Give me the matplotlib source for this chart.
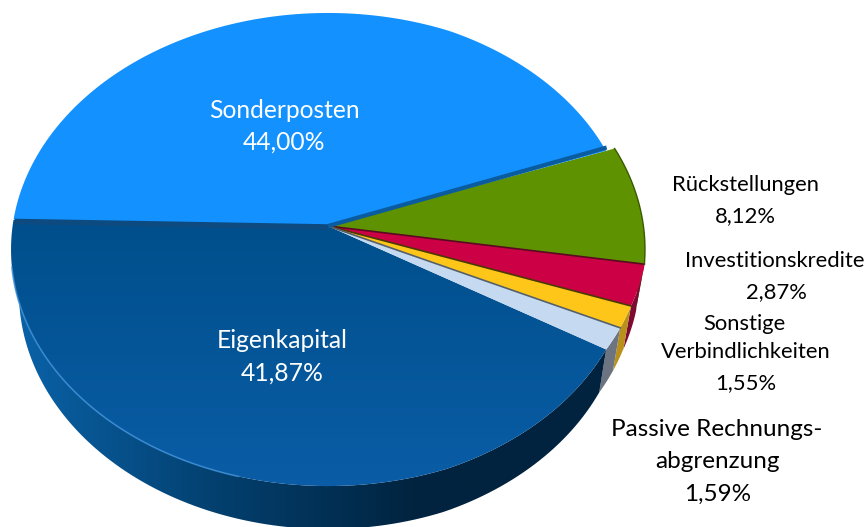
import matplotlib
matplotlib.use("Agg")
import matplotlib.pyplot as plt
import numpy as np
from matplotlib.colors import LinearSegmentedColormap
from matplotlib.patches import Polygon

plt.rcParams["font.family"] = ["Lato", "DejaVu Sans"]

# clockwise from the green slice, values in percent
names = ["Rückstellungen", "Investitionskredite", "Sonstige\nVerbindlichkeiten",
         "Passive Rechnungs-\nabgrenzung", "Eigenkapital", "Sonderposten"]
values = [8.12, 2.87, 1.55, 1.59, 41.87, 44.00]
labels = ["8,12%", "2,87%", "1,55%", "1,59%", "41,87%", "44,00%"]
colors = ["#5f9200", "#cc0044", "#ffc61a", "#c5d9f1", "#03559a", "#1291ff"]
wall_colors = ["#3d5e00", "#7d0a30", "#b8901a", "#6b7480", "#01233f", "#0a5c9e"]
edge_colors = ["#3a5a00", "#5a0a20", "#4a3a00", "#55606a", "#0d4a80", "#0a5c9e"]

START = 20.0
APEX = (328, 226)
K = 0.0994
BX, BY = 315.4, 234.2
DROP = 43


def rim(theta):
    th = np.asarray(theta, dtype=float)
    t = np.radians(th)
    d = 1 + K * np.sin(t)
    # the rim sits a bit further in at the lower right of the original
    f = np.interp(th, [-180, -70, -31, -20, -10, 30], [1, 1, 0.975, 0.985, 1, 1])
    return APEX[0] + f * BX * np.cos(t) / d, APEX[1] - f * BY * np.sin(t) / d


def floor_rim(theta):
    x, y = rim(theta)
    return APEX[0] + (x - APEX[0]) * 0.975, y + DROP


def gradient_fill(ax, poly, stops, extent, vertical=False):
    patch = Polygon(poly, closed=True, fc="none", ec="none")
    ax.add_patch(patch)
    cmap = LinearSegmentedColormap.from_list("g", stops)
    grad = np.linspace(0, 1, 256)
    grad = grad[:, None] if vertical else grad[None, :]
    im = ax.imshow(grad, cmap=cmap, extent=extent, aspect="auto", zorder=patch.get_zorder())
    im.set_clip_path(patch)


fig = plt.figure(figsize=(8.67, 5.27), dpi=100)
ax = fig.add_axes([0, 0, 1, 1])

ends = START - np.cumsum(values) * 3.6
starts = np.concatenate([[START], ends[:-1]])

# side walls of the slices facing the viewer
for i in range(5):
    if ends[i] > 0:
        continue
    th = np.linspace(min(starts[i], 0), ends[i], 120)
    xt, yt = rim(th)
    xb, yb = floor_rim(th)
    wall = np.column_stack([np.r_[xt, xb[::-1]], np.r_[yt, yb[::-1]]])
    if i == 4:
        gradient_fill(ax, wall, ["#0a62a8", "#03406f", "#01233f", "#01233f"], (15, 620, 530, 200))
    else:
        ax.add_patch(Polygon(wall, closed=True, fc=wall_colors[i], ec="none"))

# top faces
for i in range(6):
    th = np.linspace(starts[i], ends[i], 200)
    x, y = rim(th)
    if i == 5:
        # blue corner stops short of the green slice
        f = np.interp(th + 360, [20, 65, 181], [0.97, 1, 1])
        x = APEX[0] + (x - APEX[0]) * f
        y = APEX[1] + (y - APEX[1]) * f
    poly = np.column_stack([np.r_[APEX[0], x], np.r_[APEX[1], y]])
    if i == 4:
        gradient_fill(ax, poly, ["#004f8c", "#0a5da6"], (0, 867, 490, 220), vertical=True)
    else:
        ax.add_patch(Polygon(poly, closed=True, fc=colors[i], ec="none", zorder=3))
    if i in (1, 2, 3):
        ax.plot(np.r_[APEX[0], x[0]], np.r_[APEX[1], y[0]], color=edge_colors[i], lw=1.2, zorder=4)

# dark band under Sonderposten and along the green edge
x, y = rim(ends[4])
ax.plot([x + 1, APEX[0]], [y + 2, APEX[1] + 1], color="#0d4a80", lw=4, zorder=4, solid_capstyle="butt")
x, y = rim(starts[0])
ax.plot([APEX[0], x - 8], [APEX[1], y - 1], color="#0a5c9e", lw=3, zorder=4, solid_capstyle="butt")

# rim lines
th = np.linspace(starts[0], ends[0], 60)
ax.plot(*rim(th), color="#3a5a00", lw=1.0, zorder=4)
th = np.linspace(-170, -105, 80)
ax.plot(*rim(th), color="#3d8fd8", lw=1.2, alpha=0.8, zorder=4)

name_lines = [
    [(745, 185, names[0], 15.8)],
    [(775, 261, names[1], 15.8)],
    [(744, 324, names[2].split("\n")[0], 15.8), (746, 352, names[2].split("\n")[1], 15.8)],
    [(717, 429, names[3].split("\n")[0], 17.5), (718, 461, names[3].split("\n")[1], 17.5)],
]
value_pos = [(745, 216, 15.8), (776, 292, 15.8), (746, 383, 15.8), (718, 494, 17.5)]
for rows, (lx, ly, fs), lab in zip(name_lines, value_pos, labels):
    for tx, ty, s, size in rows:
        ax.text(tx, ty, s, ha="center", va="center", fontsize=size, color="black", zorder=6)
    ax.text(lx, ly, lab, ha="center", va="center", fontsize=fs, color="black", zorder=6)

ax.text(284, 110, names[5], ha="center", va="center", fontsize=17.7, color="white", zorder=6)
ax.text(284, 142, labels[5], ha="center", va="center", fontsize=17.7, color="white", zorder=6)
ax.text(282, 341, names[4], ha="center", va="center", fontsize=17.7, color="white", zorder=6)
ax.text(282, 373, labels[4], ha="center", va="center", fontsize=17.7, color="white", zorder=6)

ax.set_xlim(0, 867)
ax.set_ylim(527, 0)
ax.axis("off")
fig.savefig("out.png", dpi=100)
